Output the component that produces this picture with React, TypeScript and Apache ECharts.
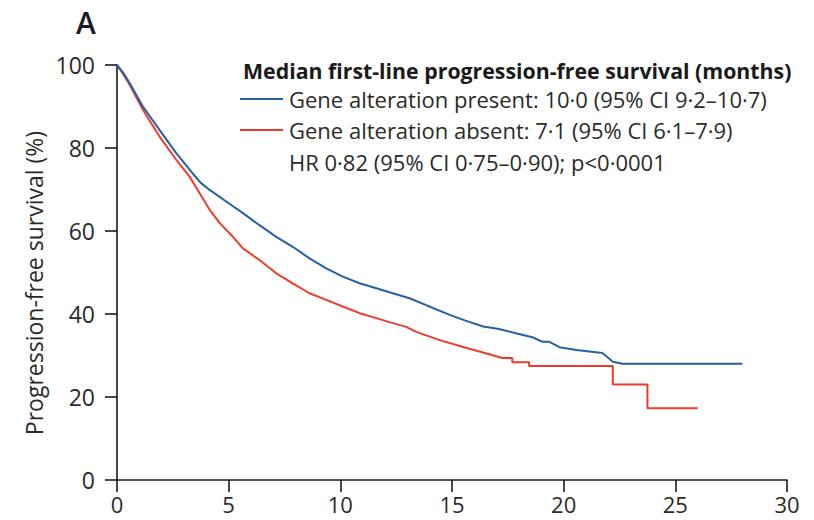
import React, { useEffect, useRef } from "react";
import * as echarts from "echarts";

// Kaplan–Meier progression-free survival (months, % progression-free)
const presentTimes = [0, 0.3, 0.57, 1.16, 1.91, 2.66, 3.4, 3.75, 4.15, 4.89, 5.64, 6.38, 7.13, 7.87, 8.62, 9.37, 10.11, 10.86, 11.61, 12.35, 13.1, 13.9, 14.9, 15.6, 16.4, 17.1, 17.9, 18.6, 19.06, 19.36, 19.81, 20.57, 21.73, 22.05, 22.2, 22.63, 28.0];
const presentSurvival = [100, 98.0, 95.6, 90.0, 84.3, 78.7, 73.8, 71.6, 69.9, 67.1, 64.3, 61.4, 58.6, 56.2, 53.4, 51.0, 49.0, 47.4, 46.2, 45.0, 43.8, 42.0, 39.8, 38.4, 37.0, 36.4, 35.3, 34.4, 33.3, 33.3, 32.0, 31.3, 30.6, 29.2, 28.5, 28.0, 28.0];

const absentTimes = [0, 0.3, 0.57, 1.16, 1.91, 2.66, 3.25, 3.7, 4.15, 4.6, 5.19, 5.64, 6.38, 7.13, 7.87, 8.62, 9.37, 10.11, 10.86, 11.61, 12.35, 12.95, 13.4, 14.45, 15.65, 16.35, 17.25, 17.7, 17.7, 18.45, 18.45, 22.2, 22.2, 23.75, 23.75, 26.0];
const absentSurvival = [100, 97.6, 95.2, 89.2, 82.7, 77.1, 73.1, 69.1, 65.1, 61.9, 58.6, 55.8, 53.0, 49.8, 47.4, 45.0, 43.4, 41.8, 40.2, 39.0, 37.8, 36.9, 35.7, 33.7, 31.8, 30.8, 29.4, 29.4, 28.4, 28.4, 27.5, 27.5, 23.0, 23.0, 17.3, 17.3];

const xTicks = [0, 5, 10, 15, 20, 25, 30];
const yTicks = [0, 20, 40, 60, 80, 100];

const legendTitle = "Median first-line progression-free survival (months)";
const presentLabel = "Gene alteration present: 10·0 (95% CI 9·2–10·7)";
const absentLabel = "Gene alteration absent: 7·1 (95% CI 6·1–7·9)";
const hrLabel = "HR 0·82 (95% CI 0·75–0·90); p<0·0001";
const yTitle = "Progression-free survival (%)";
const panelLetter = "A";

const BLUE = "#2560a8";
const RED = "#ef3b2c";
const INK = "#2a2a2a";
const FONT = "Open Sans";

const zip = (xs: number[], ys: number[]) => xs.map((x, i) => [x, ys[i]]);

export default function App() {
  const ref = useRef<HTMLDivElement>(null);

  useEffect(() => {
    if (!ref.current) return;
    const chart = echarts.init(ref.current, undefined, { renderer: "svg" });
    const axisCommon = {
      axisLine: { show: true, lineStyle: { color: "#1a1a1a", width: 1.6 } },
      axisTick: { show: true, length: 12, lineStyle: { color: "#1a1a1a", width: 1.6 } },
      splitLine: { show: false },
    };
    chart.setOption({
      animation: false,
      backgroundColor: "#ffffff",
      grid: { left: 117, right: 27, top: 65, bottom: 40, containLabel: false },
      xAxis: {
        type: "value",
        min: xTicks[0],
        max: xTicks[xTicks.length - 1],
        interval: 5,
        ...axisCommon,
        axisLabel: { fontFamily: FONT, fontSize: 22, color: INK, margin: 12, lineHeight: 24 },
      },
      yAxis: {
        type: "value",
        min: yTicks[0],
        max: yTicks[yTicks.length - 1],
        interval: 20,
        ...axisCommon,
        axisLabel: { fontFamily: FONT, fontSize: 23, color: INK, margin: 22 },
      },
      series: [
        {
          type: "line",
          name: "present",
          data: zip(presentTimes, presentSurvival),
          showSymbol: false,
          lineStyle: { color: BLUE, width: 2 },
          itemStyle: { color: BLUE },
          z: 3,
        },
        {
          type: "line",
          name: "absent",
          data: zip(absentTimes, absentSurvival),
          showSymbol: false,
          lineStyle: { color: RED, width: 2 },
          itemStyle: { color: RED },
          z: 2,
        },
      ],
      graphic: [
        {
          type: "text",
          left: 76,
          top: 7,
          style: { text: panelLetter, font: `600 30px '${FONT}'`, fill: "#1a1a2a" },
        },
        {
          type: "text",
          x: 34,
          y: 283,
          rotation: Math.PI / 2,
          style: {
            text: yTitle,
            font: `23px '${FONT}'`,
            fill: INK,
            align: "center",
            verticalAlign: "middle",
          },
        },
        {
          type: "text",
          x: 243,
          y: 70,
          style: {
            text: legendTitle,
            font: `bold 21.3px '${FONT}'`,
            fill: "#1a1a1a",
            verticalAlign: "middle",
          },
        },
        {
          type: "line",
          shape: { x1: 240, y1: 99, x2: 283, y2: 99 },
          style: { stroke: BLUE, lineWidth: 2 },
        },
        {
          type: "text",
          x: 289,
          y: 99,
          style: { text: presentLabel, font: `22px '${FONT}'`, fill: INK, verticalAlign: "middle" },
        },
        {
          type: "line",
          shape: { x1: 240, y1: 130, x2: 283, y2: 130 },
          style: { stroke: RED, lineWidth: 2 },
        },
        {
          type: "text",
          x: 289,
          y: 130,
          style: { text: absentLabel, font: `22px '${FONT}'`, fill: INK, verticalAlign: "middle" },
        },
        {
          type: "text",
          x: 289,
          y: 162,
          style: { text: hrLabel, font: `22px '${FONT}'`, fill: INK, verticalAlign: "middle" },
        },
      ],
    });
    return () => chart.dispose();
  }, []);

  return (
    <div
      ref={ref}
      style={{ width: 814, height: 520, position: "absolute", left: 0, top: 0 }}
    />
  );
}
